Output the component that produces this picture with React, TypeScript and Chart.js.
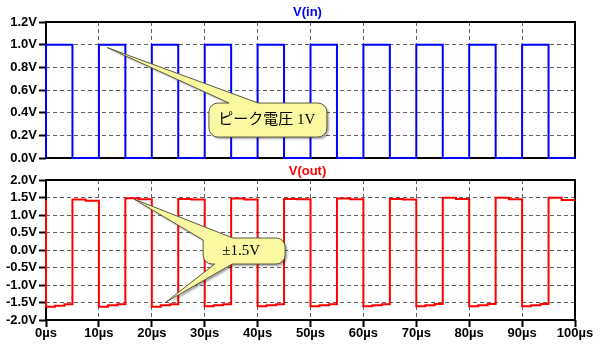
import React, { useEffect, useRef } from "react";
import { Chart, registerables } from "chart.js";

Chart.register(...registerables);

// ---- data ----
const X_TICKS = [0, 10, 20, 30, 40, 50, 60, 70, 80, 90, 100];
const VIN_Y_TICKS = [0, 0.2, 0.4, 0.6, 0.8, 1.0, 1.2];
const VOUT_Y_TICKS = [-2.0, -1.5, -1.0, -0.5, 0.0, 0.5, 1.0, 1.5, 2.0];

// input pulse train: rises at each start, falls after PULSE_WIDTH
const VIN_RISE_TIMES = [0, 10, 20, 30, 40, 50, 60, 70, 80, 90];
const VIN_PULSE_WIDTH = 5;
const VIN_HIGH = 1.0;
const VIN_LOW = 0.0;
const T_END = 100;

// output: per cycle (10 µs) levels
const VOUT_START = 1.43;
const VOUT_LOW_A = [-1.62, -1.62, -1.62, -1.61, -1.61, -1.61, -1.61, -1.61, -1.61, -1.61];
const VOUT_LOW_B = [-1.59, -1.58, -1.58, -1.58, -1.58, -1.58, -1.58, -1.58, -1.58, -1.58];
const VOUT_LOW_C = [-1.55, -1.55, -1.55, -1.55, -1.55, -1.55, -1.55, -1.54, -1.54, -1.54];
const VOUT_HIGH_A = [1.44, 1.48, 1.46, 1.47, 1.46, 1.47, 1.46, 1.49, 1.49, 1.49];
const VOUT_HIGH_B = [1.41, 1.45, 1.44, 1.44, 1.45, 1.45, 1.44, 1.46, 1.45, 1.43];
const VOUT_LOW_STEPS = [1.7, 3.5];
const VOUT_HIGH_STEP = 2.5;

// ---- build point tables ----
const vinPoints: { x: number; y: number }[] = [];
VIN_RISE_TIMES.forEach((t) => {
  vinPoints.push({ x: t, y: VIN_LOW }, { x: t, y: VIN_HIGH });
  vinPoints.push({ x: t + VIN_PULSE_WIDTH, y: VIN_HIGH }, { x: t + VIN_PULSE_WIDTH, y: VIN_LOW });
});
vinPoints.push({ x: T_END, y: VIN_LOW });

const voutPoints: { x: number; y: number }[] = [{ x: 0, y: VOUT_START }];
VIN_RISE_TIMES.forEach((t, i) => {
  const [s1, s2] = VOUT_LOW_STEPS;
  voutPoints.push(
    { x: t, y: VOUT_LOW_A[i] },
    { x: t + s1, y: VOUT_LOW_A[i] },
    { x: t + s1, y: VOUT_LOW_B[i] },
    { x: t + s2, y: VOUT_LOW_B[i] },
    { x: t + s2, y: VOUT_LOW_C[i] },
    { x: t + VIN_PULSE_WIDTH, y: VOUT_LOW_C[i] },
    { x: t + VIN_PULSE_WIDTH, y: VOUT_HIGH_A[i] },
    { x: t + VIN_PULSE_WIDTH + VOUT_HIGH_STEP, y: VOUT_HIGH_A[i] },
    { x: t + VIN_PULSE_WIDTH + VOUT_HIGH_STEP, y: VOUT_HIGH_B[i] },
    { x: t + 10, y: VOUT_HIGH_B[i] }
  );
});

// ---- styling / annotation config ----
const TICK_FONT = { family: "'Liberation Sans', Arial, sans-serif", size: 13, weight: "bold" as const };
const CALLOUT_FONT = "15px 'Liberation Serif', 'DejaVu Serif', 'Noto Sans CJK JP', serif";
const CALLOUT_FILL = "#FBF8A2";
const CALLOUT_STROKE = "#5a5a40";

const CALLOUT_IN = {
  text: "ピーク電圧 1V",
  box: { t0: 30.8, t1: 53.1, vTop: 0.485, vBot: 0.185 },
  tip: { t: 11.6, v: 0.974 },
  baseT: [34.6, 40.1],
};
const CALLOUT_OUT = {
  text: "±1.5V",
  box: { t0: 29.7, t1: 45.2, vTop: 0.343, vBot: -0.4 },
  tipUp: { t: 16.6, v: 1.457 },
  upBaseLeftV: 0.286,
  upBaseTopT: 35.3,
  tipDown: { t: 22.7, v: -1.486 },
  downBaseT: [31.9, 35.2],
};

function framePlugin(title: string, color: string, titleY: number) {
  return {
    id: "frame-" + title,
    beforeDatasetsDraw(chart: any) {
      const { ctx, chartArea: a } = chart;
      ctx.save();
      ctx.strokeStyle = "#000";
      ctx.lineWidth = 2;
      ctx.strokeRect(a.left, a.top, a.right - a.left, a.bottom - a.top);
      ctx.restore();
    },
    afterDraw(chart: any) {
      const { ctx, chartArea: a } = chart;
      ctx.save();
      ctx.fillStyle = color;
      ctx.font = "bold 13px 'Liberation Sans', Arial, sans-serif";
      ctx.textAlign = "center";
      ctx.textBaseline = "middle";
      ctx.fillText(title, (a.left + a.right) / 2 - 3, titleY);
      ctx.restore();
    },
  };
}

function fillStrokeCallout(ctx: CanvasRenderingContext2D, build: () => void) {
  ctx.save();
  ctx.shadowColor = "rgba(0,0,0,0.35)";
  ctx.shadowOffsetX = 2;
  ctx.shadowOffsetY = 2;
  ctx.shadowBlur = 2;
  build();
  ctx.fillStyle = CALLOUT_FILL;
  ctx.fill();
  ctx.restore();
  ctx.save();
  build();
  ctx.strokeStyle = CALLOUT_STROKE;
  ctx.lineWidth = 1;
  ctx.stroke();
  ctx.restore();
}

const calloutInPlugin = {
  id: "callout-in",
  afterDatasetsDraw(chart: any) {
    const { ctx } = chart;
    const xs = chart.scales.x;
    const ys = chart.scales.y;
    const c = CALLOUT_IN;
    const L = xs.getPixelForValue(c.box.t0);
    const R = xs.getPixelForValue(c.box.t1);
    const T = ys.getPixelForValue(c.box.vTop);
    const B = ys.getPixelForValue(c.box.vBot);
    const tx = xs.getPixelForValue(c.tip.t);
    const ty = ys.getPixelForValue(c.tip.v);
    const b1 = xs.getPixelForValue(c.baseT[0]);
    const b2 = xs.getPixelForValue(c.baseT[1]);
    const r = 9;
    fillStrokeCallout(ctx, () => {
      ctx.beginPath();
      ctx.moveTo(L + r, T);
      ctx.lineTo(b1, T);
      ctx.lineTo(tx, ty);
      ctx.lineTo(b2, T);
      ctx.lineTo(R - r, T);
      ctx.arcTo(R, T, R, T + r, r);
      ctx.lineTo(R, B - r);
      ctx.arcTo(R, B, R - r, B, r);
      ctx.lineTo(L + r, B);
      ctx.arcTo(L, B, L, B - r, r);
      ctx.lineTo(L, T + r);
      ctx.arcTo(L, T, L + r, T, r);
      ctx.closePath();
    });
    ctx.save();
    ctx.fillStyle = "#000";
    ctx.font = CALLOUT_FONT;
    ctx.textAlign = "center";
    ctx.textBaseline = "middle";
    ctx.fillText(c.text, (L + R) / 2 - 1, (T + B) / 2);
    ctx.restore();
  },
};

const calloutOutPlugin = {
  id: "callout-out",
  afterDatasetsDraw(chart: any) {
    const { ctx } = chart;
    const xs = chart.scales.x;
    const ys = chart.scales.y;
    const c = CALLOUT_OUT;
    const L = xs.getPixelForValue(c.box.t0);
    const R = xs.getPixelForValue(c.box.t1);
    const T = ys.getPixelForValue(c.box.vTop);
    const B = ys.getPixelForValue(c.box.vBot);
    const ux = xs.getPixelForValue(c.tipUp.t);
    const uy = ys.getPixelForValue(c.tipUp.v);
    const ubl = ys.getPixelForValue(c.upBaseLeftV);
    const ubt = xs.getPixelForValue(c.upBaseTopT);
    const dx = xs.getPixelForValue(c.tipDown.t);
    const dy = ys.getPixelForValue(c.tipDown.v);
    const db1 = xs.getPixelForValue(c.downBaseT[0]);
    const db2 = xs.getPixelForValue(c.downBaseT[1]);
    const r = 9;
    fillStrokeCallout(ctx, () => {
      ctx.beginPath();
      ctx.moveTo(ubt, T);
      ctx.lineTo(R - r, T);
      ctx.arcTo(R, T, R, T + r, r);
      ctx.lineTo(R, B - r);
      ctx.arcTo(R, B, R - r, B, r);
      ctx.lineTo(db2, B);
      ctx.lineTo(dx, dy);
      ctx.lineTo(db1, B);
      ctx.lineTo(L + r, B);
      ctx.arcTo(L, B, L, B - r, r);
      ctx.lineTo(L, ubl);
      ctx.lineTo(ux, uy);
      ctx.closePath();
    });
    ctx.save();
    ctx.fillStyle = "#000";
    ctx.font = CALLOUT_FONT;
    ctx.textAlign = "center";
    ctx.textBaseline = "middle";
    ctx.fillText(c.text, (L + R) / 2 - 3, (T + B) / 2);
    ctx.restore();
  },
};

function makeOptions(yTicks: number[], showX: boolean, padTop: number, xHeight: number) {
  const last = yTicks.length - 1;
  return {
    animation: false as const,
    responsive: false,
    maintainAspectRatio: false,
    layout: { padding: { top: padTop, right: 25, left: 0, bottom: 0 } },
    plugins: { legend: { display: false }, tooltip: { enabled: false }, title: { display: false } },
    scales: {
      x: {
        type: "linear" as const,
        min: X_TICKS[0],
        max: X_TICKS[X_TICKS.length - 1],
        afterBuildTicks: (s: any) => {
          s.ticks = X_TICKS.map((v) => ({ value: v }));
        },
        afterFit: (s: any) => {
          s.height = xHeight;
        },
        border: { display: false, dash: [4, 3] },
        grid: {
          color: (c: any) =>
            c.index === 0 || c.index === X_TICKS.length - 1 ? "rgba(0,0,0,0)" : "#606060",
          lineWidth: 1,
          drawTicks: showX,
          tickLength: 7,
          tickColor: "#000",
          tickWidth: 2,
        },
        ticks: {
          display: showX,
          color: "#000",
          font: TICK_FONT,
          padding: -1,
          maxRotation: 0,
          autoSkip: false,
          callback: (v: any) => `${v}µs`,
        },
      },
      y: {
        type: "linear" as const,
        min: yTicks[0],
        max: yTicks[last],
        afterBuildTicks: (s: any) => {
          s.ticks = yTicks.map((v) => ({ value: v }));
        },
        afterFit: (s: any) => {
          s.width = 46;
        },
        border: { display: false, dash: [4, 3] },
        grid: {
          color: (c: any) => (c.index === 0 || c.index === last ? "rgba(0,0,0,0)" : "#606060"),
          lineWidth: 1,
          tickLength: 7,
          tickColor: "#000",
          tickWidth: 2,
        },
        ticks: {
          color: "#000",
          font: TICK_FONT,
          padding: 2,
          autoSkip: false,
          callback: (v: any) => `${Number(v).toFixed(1)}V`,
        },
      },
    },
  };
}

export default function App() {
  const topRef = useRef<HTMLCanvasElement>(null);
  const botRef = useRef<HTMLCanvasElement>(null);

  useEffect(() => {
    const top = new Chart(topRef.current!, {
      type: "line",
      data: {
        datasets: [
          {
            label: "V(in)",
            data: vinPoints,
            borderColor: "#0000FF",
            borderWidth: 2,
            pointRadius: 0,
            tension: 0,
            fill: false,
            clip: 4,
          } as any,
        ],
      },
      options: makeOptions(VIN_Y_TICKS, false, 22, 12) as any,
      plugins: [framePlugin("V(in)", "#0000FF", 12), calloutInPlugin],
    });
    const bot = new Chart(botRef.current!, {
      type: "line",
      data: {
        datasets: [
          {
            label: "V(out)",
            data: voutPoints,
            borderColor: "#FF0000",
            borderWidth: 2,
            pointRadius: 0,
            tension: 0,
            fill: false,
            clip: 4,
          } as any,
        ],
      },
      options: makeOptions(VOUT_Y_TICKS, true, 20, 33) as any,
      plugins: [framePlugin("V(out)", "#FF0000", 11), calloutOutPlugin],
    });
    return () => {
      top.destroy();
      bot.destroy();
    };
  }, []);

  return (
    <div style={{ position: "absolute", left: 0, top: 0, width: 600, height: 353, background: "#fff" }}>
      <canvas
        ref={topRef}
        width={600}
        height={170}
        style={{ position: "absolute", left: 0, top: 0, width: 600, height: 170, display: "block" }}
      />
      <canvas
        ref={botRef}
        width={600}
        height={193}
        style={{ position: "absolute", left: 0, top: 160, width: 600, height: 193, display: "block" }}
      />
    </div>
  );
}
